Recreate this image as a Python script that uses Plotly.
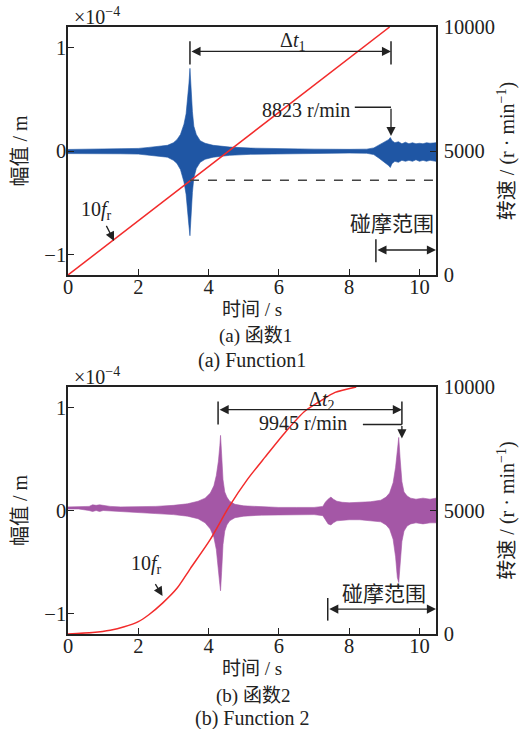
import plotly.graph_objects as go
from plotly.subplots import make_subplots

# ---------------- data ----------------
x_ticks = [0, 2, 4, 6, 8, 10]
amp_ticks = [-1, 0, 1]
amp_ticklabels = ["\u22121", "0", "1"]
speed_ticks = [0, 5000, 10000]
speed_ticklabels = ["0", "5000", "10000"]

# (a) Function 1 : vibration envelope (x1e-4 m)
t_sig1 = [0, 0.5, 1.0, 1.5, 2.0, 2.3, 2.6, 2.83, 3.0, 3.1, 3.2, 3.3, 3.36, 3.4, 3.44, 3.47,
          3.5, 3.54, 3.58, 3.65, 3.76, 3.9, 4.13, 4.6, 5.2, 6.0, 7.0, 8.0, 8.5, 8.7, 8.85,
          8.95, 9.05, 9.12, 9.17, 9.22, 9.3, 9.4, 9.5, 9.6, 9.7, 9.8, 9.9, 10.0, 10.1, 10.2,
          10.3, 10.47]
amp1_upper = [0.015, 0.018, 0.02, 0.022, 0.025, 0.035, 0.045, 0.055, 0.08, 0.11, 0.16, 0.26,
              0.36, 0.48, 0.65, 0.80, 0.6, 0.38, 0.24, 0.16, 0.1, 0.075, 0.055, 0.038, 0.028,
              0.022, 0.018, 0.016, 0.018, 0.03, 0.06, 0.08, 0.1, 0.11, 0.13, 0.1, 0.08, 0.09,
              0.07, 0.085, 0.07, 0.08, 0.07, 0.075, 0.07, 0.08, 0.075, 0.08]
amp1_lower = [-0.025, -0.025, -0.025, -0.027, -0.03, -0.04, -0.05, -0.06, -0.09, -0.12, -0.18,
              -0.3, -0.42, -0.55, -0.72, -0.82, -0.62, -0.4, -0.26, -0.17, -0.11, -0.08, -0.06,
              -0.042, -0.032, -0.026, -0.022, -0.02, -0.022, -0.035, -0.07, -0.1, -0.12, -0.14,
              -0.16, -0.12, -0.1, -0.11, -0.09, -0.1, -0.09, -0.1, -0.085, -0.1, -0.09, -0.1,
              -0.09, -0.1]
t_speed1 = [0, 9.15]
speed1 = [0, 10000]

# (b) Function 2
t_sig2 = [0, 0.3, 0.6, 0.7, 0.8, 0.9, 1.0, 1.1, 1.2, 1.5, 2.0, 2.5, 3.0, 3.4, 3.7, 3.9, 4.05,
          4.15, 4.22, 4.28, 4.32, 4.34, 4.37, 4.41, 4.46, 4.52, 4.6, 4.75, 5.0, 5.5, 6.0, 6.5,
          7.0, 7.25, 7.32, 7.4, 7.48, 7.55, 7.65, 7.8, 8.0, 8.3, 8.6, 8.9, 9.05, 9.15, 9.25,
          9.32, 9.37, 9.41, 9.45, 9.5, 9.56, 9.65, 9.75, 9.9, 10.1, 10.3, 10.47]
amp2_upper = [0.035, 0.035, 0.04, 0.055, 0.05, 0.055, 0.05, 0.045, 0.04, 0.035, 0.035, 0.04,
              0.05, 0.065, 0.09, 0.12, 0.17, 0.24, 0.34, 0.48, 0.63, 0.73, 0.55, 0.3, 0.18,
              0.13, 0.09, 0.06, 0.045, 0.035, 0.03, 0.03, 0.03, 0.04, 0.08, 0.11, 0.13, 0.11,
              0.09, 0.08, 0.075, 0.08, 0.085, 0.1, 0.13, 0.17, 0.27, 0.42, 0.6, 0.71, 0.5,
              0.28, 0.18, 0.14, 0.12, 0.11, 0.12, 0.11, 0.12]
amp2_lower = [0.015, 0.015, 0.0, -0.01, 0.0, -0.01, 0.0, -0.005, 0.0, -0.01, -0.02, -0.03,
              -0.04, -0.055, -0.08, -0.12, -0.18, -0.26, -0.38, -0.55, -0.72, -0.78, -0.6,
              -0.33, -0.2, -0.14, -0.1, -0.07, -0.055, -0.045, -0.04, -0.04, -0.04, -0.05,
              -0.09, -0.13, -0.14, -0.12, -0.1, -0.095, -0.09, -0.09, -0.1, -0.11, -0.14,
              -0.18, -0.28, -0.45, -0.65, -0.70, -0.5, -0.3, -0.2, -0.15, -0.13, -0.12, -0.13,
              -0.12, -0.12]
t_speed2 = [0, 0.7, 1.2, 1.6, 2.0, 2.3, 2.69, 3.1, 3.48, 4.04, 4.58, 5.1, 5.6, 6.2, 6.72,
            7.2, 7.6, 8.2]
speed2 = [0, 60, 150, 290, 500, 780, 1250, 1850, 2650, 3810, 5150, 6250, 7150, 8200, 9000,
          9450, 9780, 10000]

# event times / levels
res1_t, rub1_t, rub1_start = 3.47, 9.19, 8.76
res1_level = -0.283
res2_t, rub2_t, rub2_start = 4.27, 9.5, 7.39
t_end = 10.47

# ---------------- styles ----------------
FONT = "Liberation Serif, Noto Sans CJK SC, serif"
BLUE = "#1F56A4"
PURPLE = "#A457A6"
RED = "#F22B2B"
INK = "#222222"
FS = 20

fig = make_subplots(rows=2, cols=1, specs=[[{"secondary_y": True}], [{"secondary_y": True}]])


def envelope(t, up, lo, color, row):
    fig.add_trace(go.Scatter(x=t + t[::-1], y=up + lo[::-1], fill="toself", fillcolor=color,
                             mode="lines", line=dict(color=color, width=0.6),
                             hoverinfo="skip", showlegend=False),
                  row=row, col=1, secondary_y=False)


envelope(t_sig1, amp1_upper, amp1_lower, BLUE, 1)
envelope(t_sig2, amp2_upper, amp2_lower, PURPLE, 2)
fig.add_trace(go.Scatter(x=t_speed1, y=speed1, mode="lines", line=dict(color=RED, width=1.5),
                         showlegend=False), row=1, col=1, secondary_y=True)
fig.add_trace(go.Scatter(x=t_speed2, y=speed2, mode="lines",
                         line=dict(color=RED, width=1.5, shape="spline", smoothing=0.7),
                         showlegend=False), row=2, col=1, secondary_y=True)

top_y0 = (634 - 275) / 607
bot_y1 = (634 - 387) / 607

axis_common = dict(showline=True, linecolor=INK, linewidth=1.5, ticks="inside", ticklen=6,
                   tickwidth=1.3, tickcolor=INK, showgrid=False, zeroline=False,
                   tickfont=dict(family=FONT, size=20.5, color=INK))

for xa in ("xaxis", "xaxis2"):
    fig.layout[xa].update(range=[0, t_end], tickvals=x_ticks, mirror=True, domain=[0, 1],
                          ticklabelstandoff=-7, **axis_common)

for ya, dom in (("yaxis", [top_y0, 1]), ("yaxis3", [0, bot_y1])):
    fig.layout[ya].update(range=[-1.2, 1.2], tickvals=amp_ticks, ticktext=amp_ticklabels,
                          domain=dom, ticklabelstandoff=-4,
                          title=dict(text="幅值 / m", font=dict(family=FONT, size=FS, color=INK),
                                     standoff=11), **axis_common)

for ya, dom in (("yaxis2", [top_y0, 1]), ("yaxis4", [0, bot_y1])):
    fig.layout[ya].update(range=[0, 10000], tickvals=speed_ticks, ticktext=speed_ticklabels,
                          domain=dom, ticklabelstandoff=2,
                          title=dict(text="转速 / (r · min<sup>−1</sup>)",
                                     font=dict(family=FONT, size=FS, color=INK), standoff=6),
                          **axis_common)

shapes = []
annotations = []


def vline(xr, yr, x, y0, y1):
    shapes.append(dict(type="line", xref=xr, yref=yr, x0=x, x1=x, y0=y0, y1=y1,
                       line=dict(color=INK, width=1.5)))


def hline(xr, yr, y, x0, x1, dash=None, color=INK):
    ln = dict(color=color, width=1.5)
    if dash:
        ln["dash"] = dash
    shapes.append(dict(type="line", xref=xr, yref=yr, x0=x0, x1=x1, y0=y, y1=y, line=ln))


def arrow(xr, yr, x, y, ax, ay, both=False):
    annotations.append(dict(xref=xr, yref=yr, axref=xr, ayref=yr, x=x, y=y, ax=ax, ay=ay,
                            text="", showarrow=True, arrowhead=2, arrowsize=1.4, arrowwidth=1.3,
                            arrowcolor=INK, standoff=0,
                            arrowside="end+start" if both else "end",
                            startarrowhead=2, startarrowsize=1.4, startstandoff=0))


def label(xr, yr, x, y, text, size=FS, xanchor="center"):
    annotations.append(dict(xref=xr, yref=yr, x=x, y=y, text=text, showarrow=False,
                            xanchor=xanchor, yanchor="middle",
                            font=dict(family=FONT, size=size, color=INK)))


def py(p):
    """pixel row of the page -> paper fraction"""
    return (634 - p) / 607


def px(p):
    return (p - 68) / 377


# ---- panel (a) ----
hline("x", "y", res1_level, res1_t, 10.42, dash="dash", color="#444444")
vline("x", "y", res1_t, 0.836, 1.063)
vline("x", "y", rub1_t, 0.836, 1.063)
arrow("x", "y", rub1_t, 0.964, res1_t, 0.964, both=True)
label("x", "y", 6.39, 1.058, "Δ<i>t</i><sub>1</sub>")
label("x", "y", 6.76, 0.40, "8823 r/min")
hline("x", "y", 0.423, 8.16, rub1_t)
arrow("x", "y", rub1_t, 0.145, rub1_t, 0.423)
label("x", "y", 0.81, -0.58, "10<i>f</i><sub>r</sub>")
arrow("x", "y", 1.31, -0.87, 1.07, -0.71)
label("x", "y", 9.22, -0.71, "碰摩范围", size=21)
vline("x", "y", rub1_start, -0.855, -1.077)
arrow("x", "y", t_end, -0.958, rub1_start, -0.958, both=True)
label("x domain", "y domain", 0.012, 1.045, "×10<sup>−4</sup>", xanchor="left")

# ---- panel (b) ----
vline("x2", "y3", res2_t, 0.836, 1.058)
vline("x2", "y3", rub2_t, 0.836, 1.058)
arrow("x2", "y3", rub2_t, 0.98, res2_t, 0.98, both=True)
label("x2", "y3", 7.22, 1.067, "Δ<i>t</i><sub>2</sub>")
label("x2", "y3", 6.69, 0.846, "9945 r/min")
hline("x2", "y3", 0.836, 8.39, rub2_t)
arrow("x2", "y3", rub2_t, 0.70, rub2_t, 0.836)
label("x2", "y3", 2.23, -0.52, "10<i>f</i><sub>r</sub>")
arrow("x2", "y3", 2.69, -0.83, 2.46, -0.70)
label("x2", "y3", 9.0, -0.81, "碰摩范围", size=21)
vline("x2", "y3", rub2_start, -0.85, -1.07)
arrow("x2", "y3", t_end, -0.958, rub2_start, -0.958, both=True)
label("x2 domain", "y3 domain", 0.012, 1.045, "×10<sup>−4</sup>", xanchor="left")

# x-axis titles and captions
label("paper", "paper", px(256), py(309), "时间 / s", size=19)
label("paper", "paper", px(260), py(336), "(a) 函数1", size=19)
label("paper", "paper", px(257), py(361), "(a) Function1")
label("paper", "paper", px(256), py(669), "时间 / s", size=19)
label("paper", "paper", px(258), py(696), "(b) 函数2", size=19)
label("paper", "paper", px(257), py(718), "(b) Function 2")

fig.update_layout(width=527, height=729, autosize=False,
                  margin=dict(l=68, r=82, t=27, b=95),
                  paper_bgcolor="white", plot_bgcolor="white",
                  font=dict(family=FONT, size=FS, color=INK),
                  shapes=shapes, annotations=annotations, showlegend=False)

fig.write_html("out.html")
